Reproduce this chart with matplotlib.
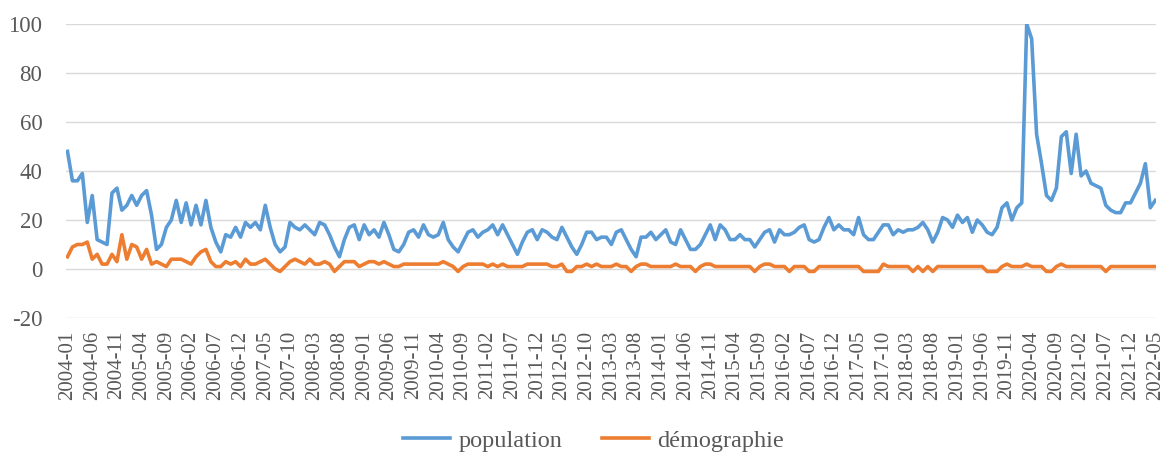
import pandas as pd
import matplotlib
matplotlib.use('Agg')
import matplotlib.pyplot as plt
import numpy as np

# monthly series, 2004-01 .. 2022-05
months = [str(p) for p in pd.period_range('2004-01', '2022-05', freq='M')]

population = [
    48, 36, 36, 39, 19, 30, 12, 11, 10, 31, 33, 24, 26, 30, 26, 30, 32, 22, 8, 10,
    17, 20, 28, 19, 27, 18, 26, 18, 28, 17, 11, 7, 14, 13, 17, 13, 19, 17, 19, 16,
    26, 17, 10, 7, 9, 19, 17, 16, 18, 16, 14, 19, 18, 14, 9, 5, 12, 17, 18, 12,
    18, 14, 16, 13, 19, 14, 8, 7, 10, 15, 16, 13, 18, 14, 13, 14, 19, 12, 9, 7,
    11, 15, 16, 13, 15, 16, 18, 14, 18, 14, 10, 6, 11, 15, 16, 12, 16, 15, 13, 12,
    17, 13, 9, 6, 10, 15, 15, 12, 13, 13, 10, 15, 16, 12, 8, 5, 13, 13, 15, 12,
    14, 16, 11, 10, 16, 12, 8, 8, 10, 14, 18, 12, 18, 16, 12, 12, 14, 12, 12, 9,
    12, 15, 16, 11, 16, 14, 14, 15, 17, 18, 12, 11, 12, 17, 21, 16, 18, 16, 16, 14,
    21, 14, 12, 12, 15, 18, 18, 14, 16, 15, 16, 16, 17, 19, 16, 11, 15, 21, 20, 17,
    22, 19, 21, 15, 20, 18, 15, 14, 17, 25, 27, 20, 25, 27, 100, 94, 55, 43, 30, 28,
    33, 54, 56, 39, 55, 38, 40, 35, 34, 33, 26, 24, 23, 23, 27, 27, 31, 35, 43, 25,
    28,
]

demographie = [
    5, 9, 10, 10, 11, 4, 6, 2, 2, 6, 3, 14, 4, 10, 9, 4, 8, 2, 3, 2,
    1, 4, 4, 4, 3, 2, 5, 7, 8, 3, 1, 1, 3, 2, 3, 1, 4, 2, 2, 3,
    4, 2, 0, -1, 1, 3, 4, 3, 2, 4, 2, 2, 3, 2, -1, 1, 3, 3, 3, 1,
    2, 3, 3, 2, 3, 2, 1, 1, 2, 2, 2, 2, 2, 2, 2, 2, 3, 2, 1, -1,
    1, 2, 2, 2, 2, 1, 2, 1, 2, 1, 1, 1, 1, 2, 2, 2, 2, 2, 1, 1,
    2, -1, -1, 1, 1, 2, 1, 2, 1, 1, 1, 2, 1, 1, -1, 1, 2, 2, 1, 1,
    1, 1, 1, 2, 1, 1, 1, -1, 1, 2, 2, 1, 1, 1, 1, 1, 1, 1, 1, -1,
    1, 2, 2, 1, 1, 1, -1, 1, 1, 1, -1, -1, 1, 1, 1, 1, 1, 1, 1, 1,
    1, -1, -1, -1, -1, 2, 1, 1, 1, 1, 1, -1, 1, -1, 1, -1, 1, 1, 1, 1,
    1, 1, 1, 1, 1, 1, -1, -1, -1, 1, 2, 1, 1, 1, 2, 1, 1, 1, -1, -1,
    1, 2, 1, 1, 1, 1, 1, 1, 1, 1, -1, 1, 1, 1, 1, 1, 1, 1, 1, 1,
    1,
]

yticks = [-20, 0, 20, 40, 60, 80, 100]

plt.rcParams['font.family'] = ['Liberation Serif', 'DejaVu Serif']
grey = '#595959'

fig = plt.figure(figsize=(11.64, 4.53), dpi=100)
ax = fig.add_axes([66/1164, 1 - 318/453, 1090/1164, 294/453])

x = np.arange(len(months))
ax.plot(x, population, color='#5b9bd5', lw=2.6, label='population',
        solid_joinstyle='round')
ax.plot(x, demographie, color='#ed7d31', lw=2.6, label='démographie',
        solid_joinstyle='round')

ax.set_xlim(-0.3, len(months) - 0.85)
ax.set_ylim(-20, 100)
ax.set_yticks(yticks)
ax.set_yticklabels([str(v) for v in yticks])
ax.set_xticks(x[::5])
ax.set_xticklabels(months[::5], rotation=90)

ax.grid(axis='y', color='#d9d9d9', lw=1)
ax.set_axisbelow(True)
for s in ax.spines.values():
    s.set_visible(False)
ax.tick_params(axis='both', length=0, colors=grey)
ax.tick_params(axis='y', pad=17, labelsize=16.5)
ax.tick_params(axis='x', pad=9, labelsize=15)

fig.legend(loc='lower center', bbox_to_anchor=(0.51, -0.045), ncol=2,
           frameon=False, fontsize=17.5, handlelength=1.95, handletextpad=0.35,
           columnspacing=1.6, labelcolor=grey)

fig.savefig('out.png', dpi=100)
